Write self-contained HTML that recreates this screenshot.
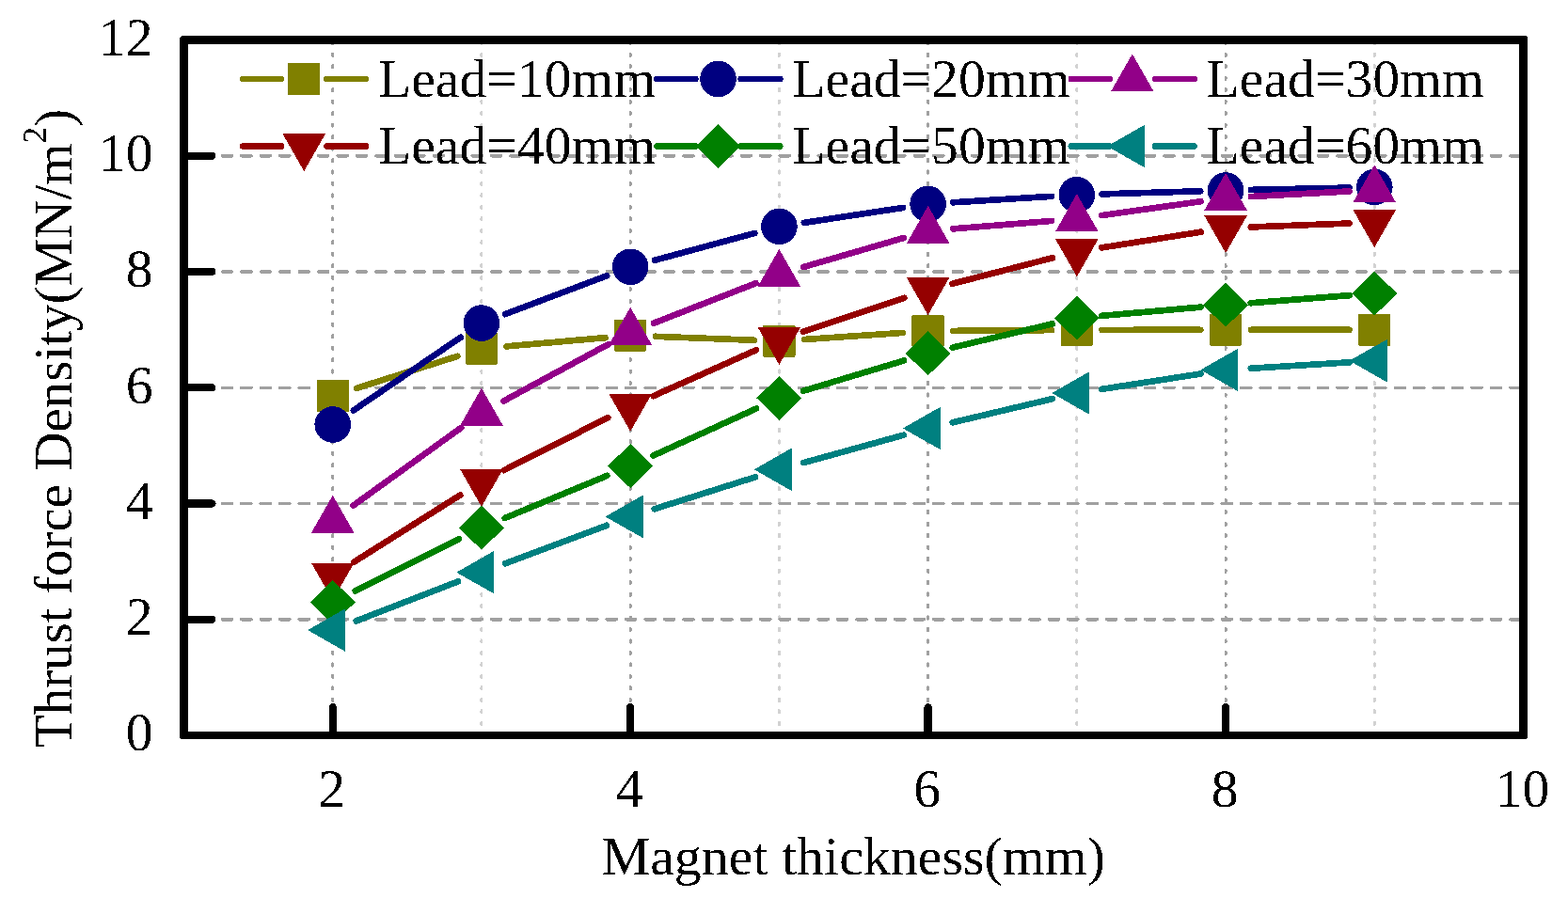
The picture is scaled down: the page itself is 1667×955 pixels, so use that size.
<!DOCTYPE html>
<html><head><meta charset="utf-8"><title>Thrust force density vs magnet thickness</title>
<style>html,body{margin:0;padding:0;background:#fff;}body{width:1667px;height:955px;overflow:hidden;}svg{display:block;}svg *{shape-rendering:crispEdges;}text,tspan{shape-rendering:auto;}text{font-family:"Liberation Serif","Times New Roman",serif;fill:#000;}</style>
</head><body>
<svg width="1667" height="955" viewBox="0 0 1667 955">
<rect x="0" y="0" width="1667" height="955" fill="#fff"/>
<defs><filter id="bin" x="-5%" y="-20%" width="110%" height="140%" color-interpolation-filters="sRGB"><feComponentTransfer><feFuncA type="discrete" tableValues="0 1"/></feComponentTransfer></filter></defs>
<g fill="none" stroke-linecap="round">
<line x1="353.72" y1="44.63" x2="353.72" y2="777.70" stroke="#a0a0a0" stroke-width="3" stroke-dasharray="2.3 10.175"/>
<line x1="511.94" y1="44.63" x2="511.94" y2="777.70" stroke="#d2d2d2" stroke-width="3" stroke-dasharray="2.3 10.175"/>
<line x1="670.17" y1="44.63" x2="670.17" y2="777.70" stroke="#a0a0a0" stroke-width="3" stroke-dasharray="2.3 10.175"/>
<line x1="828.39" y1="44.63" x2="828.39" y2="777.70" stroke="#d2d2d2" stroke-width="3" stroke-dasharray="2.3 10.175"/>
<line x1="986.61" y1="44.63" x2="986.61" y2="777.70" stroke="#a0a0a0" stroke-width="3" stroke-dasharray="2.3 10.175"/>
<line x1="1144.83" y1="44.63" x2="1144.83" y2="777.70" stroke="#d2d2d2" stroke-width="3" stroke-dasharray="2.3 10.175"/>
<line x1="1303.06" y1="44.63" x2="1303.06" y2="777.70" stroke="#a0a0a0" stroke-width="3" stroke-dasharray="2.3 10.175"/>
<line x1="1461.28" y1="44.63" x2="1461.28" y2="777.70" stroke="#d2d2d2" stroke-width="3" stroke-dasharray="2.3 10.175"/>
<line x1="195.5" y1="658.75" x2="1615.20" y2="658.75" stroke="#a0a0a0" stroke-width="3.5" stroke-dasharray="10.2 10.24"/>
<line x1="195.5" y1="535.50" x2="1615.20" y2="535.50" stroke="#a0a0a0" stroke-width="3.5" stroke-dasharray="10.2 10.24"/>
<line x1="195.5" y1="412.25" x2="1615.20" y2="412.25" stroke="#a0a0a0" stroke-width="3.5" stroke-dasharray="10.2 10.24"/>
<line x1="195.5" y1="289.00" x2="1615.20" y2="289.00" stroke="#a0a0a0" stroke-width="3.5" stroke-dasharray="10.2 10.24"/>
<line x1="195.5" y1="165.75" x2="1615.20" y2="165.75" stroke="#a0a0a0" stroke-width="3.5" stroke-dasharray="10.2 10.24"/>
</g>
<path d="M379.26,412.88L486.40,378.82M538.64,368.35L643.47,359.15M696.95,357.82L801.61,361.78M855.13,360.99L959.87,353.91M1013.41,351.90L1118.03,351.10M1171.63,350.88L1276.26,350.82M1329.86,350.81L1434.48,350.84" fill="none" stroke="#808000" stroke-width="6.7" stroke-linecap="round"/>
<rect x="336.52" y="404.10" width="34.4" height="33.8" rx="1.5" fill="#808000"/>
<rect x="494.74" y="353.80" width="34.4" height="33.8" rx="1.5" fill="#808000"/>
<rect x="652.97" y="339.90" width="34.4" height="33.8" rx="1.5" fill="#808000"/>
<rect x="811.19" y="345.90" width="34.4" height="33.8" rx="1.5" fill="#808000"/>
<rect x="969.41" y="335.20" width="34.4" height="33.8" rx="1.5" fill="#808000"/>
<rect x="1127.63" y="334.00" width="34.4" height="33.8" rx="1.5" fill="#808000"/>
<rect x="1285.86" y="333.90" width="34.4" height="33.8" rx="1.5" fill="#808000"/>
<rect x="1444.08" y="333.95" width="34.4" height="33.8" rx="1.5" fill="#808000"/>
<path d="M375.86,436.40L489.80,358.70M537.01,334.13L645.10,293.27M696.03,276.79L802.52,247.91M854.89,236.88L960.11,220.92M1013.36,215.26L1118.08,208.84M1171.62,206.40L1276.27,203.30M1329.85,201.91L1434.48,199.59" fill="none" stroke="#000080" stroke-width="6.7" stroke-linecap="round"/>
<circle cx="353.72" cy="451.50" r="19.3" fill="#000080"/>
<circle cx="511.94" cy="343.60" r="19.3" fill="#000080"/>
<circle cx="670.17" cy="283.80" r="19.3" fill="#000080"/>
<circle cx="828.39" cy="240.90" r="19.3" fill="#000080"/>
<circle cx="986.61" cy="216.90" r="19.3" fill="#000080"/>
<circle cx="1144.83" cy="207.20" r="19.3" fill="#000080"/>
<circle cx="1303.06" cy="202.50" r="19.3" fill="#000080"/>
<circle cx="1461.28" cy="199.00" r="19.3" fill="#000080"/>
<path d="M375.45,537.72L490.21,454.88M535.50,426.42L646.61,366.18M695.12,343.64L803.43,301.26M854.12,284.02L960.88,252.98M1013.33,243.36L1118.12,234.94M1171.37,229.06L1276.52,214.24M1329.82,209.06L1434.52,203.44" fill="none" stroke="#920088" stroke-width="6.7" stroke-linecap="round"/>
<polygon points="353.72,526.73 376.52,566.73 330.92,566.73" fill="#920088"/>
<polygon points="511.94,412.53 534.74,452.53 489.14,452.53" fill="#920088"/>
<polygon points="670.17,326.73 692.97,366.73 647.37,366.73" fill="#920088"/>
<polygon points="828.39,264.83 851.19,304.83 805.59,304.83" fill="#920088"/>
<polygon points="986.61,218.83 1009.41,258.83 963.81,258.83" fill="#920088"/>
<polygon points="1144.83,206.13 1167.63,246.13 1122.03,246.13" fill="#920088"/>
<polygon points="1303.06,183.83 1325.86,223.83 1280.26,223.83" fill="#920088"/>
<polygon points="1461.28,175.33 1484.08,215.33 1438.48,215.33" fill="#920088"/>
<path d="M376.40,597.61L489.27,526.49M535.86,500.10L646.26,444.20M694.63,421.15L803.93,372.25M853.81,352.80L961.19,316.90M1012.56,301.71L1118.88,274.29M1171.30,263.40L1276.59,246.70M1329.84,241.48L1434.50,237.52" fill="none" stroke="#950000" stroke-width="6.7" stroke-linecap="round"/>
<polygon points="353.72,638.57 376.52,598.57 330.92,598.57" fill="#950000"/>
<polygon points="511.94,538.87 534.74,498.87 489.14,498.87" fill="#950000"/>
<polygon points="670.17,458.77 692.97,418.77 647.37,418.77" fill="#950000"/>
<polygon points="828.39,387.97 851.19,347.97 805.59,347.97" fill="#950000"/>
<polygon points="986.61,335.07 1009.41,295.07 963.81,295.07" fill="#950000"/>
<polygon points="1144.83,294.27 1167.63,254.27 1122.03,254.27" fill="#950000"/>
<polygon points="1303.06,269.17 1325.86,229.17 1280.26,229.17" fill="#950000"/>
<polygon points="1461.28,263.17 1484.08,223.17 1438.48,223.17" fill="#950000"/>
<path d="M377.69,628.42L487.97,573.28M536.70,551.02L645.42,505.88M694.55,484.47L804.01,434.53M854.05,415.68L960.95,383.52M1012.68,369.60L1118.76,344.40M1171.53,335.85L1276.36,326.65M1329.78,322.24L1434.56,314.16" fill="none" stroke="#008000" stroke-width="6.7" stroke-linecap="round"/>
<polygon points="353.72,616.90 377.72,640.40 353.72,663.90 329.72,640.40" fill="#008000"/>
<polygon points="511.94,537.80 535.94,561.30 511.94,584.80 487.94,561.30" fill="#008000"/>
<polygon points="670.17,472.10 694.17,495.60 670.17,519.10 646.17,495.60" fill="#008000"/>
<polygon points="828.39,399.90 852.39,423.40 828.39,446.90 804.39,423.40" fill="#008000"/>
<polygon points="986.61,352.30 1010.61,375.80 986.61,399.30 962.61,375.80" fill="#008000"/>
<polygon points="1144.83,314.70 1168.83,338.20 1144.83,361.70 1120.83,338.20" fill="#008000"/>
<polygon points="1303.06,300.80 1327.06,324.30 1303.06,347.80 1279.06,324.30" fill="#008000"/>
<polygon points="1461.28,288.60 1485.28,312.10 1461.28,335.60 1437.28,312.10" fill="#008000"/>
<path d="M378.71,660.40L486.96,618.40M537.04,599.29L645.07,558.81M695.72,541.31L802.84,507.39M854.22,492.15L960.78,462.65M1012.69,449.32L1118.76,424.18M1171.32,413.88L1276.57,397.52M1329.81,391.76L1434.53,385.34" fill="none" stroke="#008080" stroke-width="6.7" stroke-linecap="round"/>
<polygon points="327.05,670.10 367.05,647.30 367.05,692.90" fill="#008080"/>
<polygon points="485.27,608.70 525.27,585.90 525.27,631.50" fill="#008080"/>
<polygon points="643.50,549.40 683.50,526.60 683.50,572.20" fill="#008080"/>
<polygon points="801.72,499.30 841.72,476.50 841.72,522.10" fill="#008080"/>
<polygon points="959.94,455.50 999.94,432.70 999.94,478.30" fill="#008080"/>
<polygon points="1118.16,418.00 1158.16,395.20 1158.16,440.80" fill="#008080"/>
<polygon points="1276.39,393.40 1316.39,370.60 1316.39,416.20" fill="#008080"/>
<polygon points="1434.61,383.70 1474.61,360.90 1474.61,406.50" fill="#008080"/>
<g stroke="#000" stroke-width="8.3" stroke-linecap="round" fill="none">
<line x1="199.80" y1="658.75" x2="225.4" y2="658.75"/>
<line x1="199.80" y1="535.50" x2="225.4" y2="535.50"/>
<line x1="199.80" y1="412.25" x2="225.4" y2="412.25"/>
<line x1="199.80" y1="289.00" x2="225.4" y2="289.00"/>
<line x1="199.80" y1="165.75" x2="225.4" y2="165.75"/>
<line x1="353.72" y1="777.70" x2="353.72" y2="752.2"/>
<line x1="670.17" y1="777.70" x2="670.17" y2="752.2"/>
<line x1="986.61" y1="777.70" x2="986.61" y2="752.2"/>
<line x1="1303.06" y1="777.70" x2="1303.06" y2="752.2"/>
</g>
<path fill="#000" fill-rule="evenodd" d="M194.5,38H1620.5A3.5,3.5 0 0 1 1624,41.5V782.5A3.5,3.5 0 0 1 1620.5,786H194.5A3.5,3.5 0 0 1 191,782.5V41.5A3.5,3.5 0 0 1 194.5,38Z M200,47V778H1615V47Z"/>
<path d="M258.20,84.00H299.00M347.40,84.00H389.00" stroke="#808000" stroke-width="6.6" stroke-linecap="round"/>
<rect x="306.00" y="67.10" width="34.4" height="33.8" rx="1.5" fill="#808000"/>
<path d="M698.50,84.00H739.30M787.70,84.00H829.30" stroke="#000080" stroke-width="6.6" stroke-linecap="round"/>
<circle cx="763.50" cy="84.00" r="19.3" fill="#000080"/>
<path d="M1138.80,84.00H1179.60M1228.00,84.00H1269.60" stroke="#920088" stroke-width="6.6" stroke-linecap="round"/>
<polygon points="1203.80,57.33 1226.60,97.33 1181.00,97.33" fill="#920088"/>
<path d="M258.20,155.50H299.00M347.40,155.50H389.00" stroke="#950000" stroke-width="6.6" stroke-linecap="round"/>
<polygon points="323.20,182.17 346.00,142.17 300.40,142.17" fill="#950000"/>
<path d="M698.50,155.50H739.30M787.70,155.50H829.30" stroke="#008000" stroke-width="6.6" stroke-linecap="round"/>
<polygon points="763.50,132.00 787.50,155.50 763.50,179.00 739.50,155.50" fill="#008000"/>
<path d="M1138.80,155.50H1179.60M1228.00,155.50H1269.60" stroke="#008080" stroke-width="6.6" stroke-linecap="round"/>
<polygon points="1177.13,155.50 1217.13,132.70 1217.13,178.30" fill="#008080"/>
<g filter="url(#bin)">
<text x="402.00" y="102.70" font-size="57.7">Lead=10mm</text>
<text x="842.30" y="102.70" font-size="57.7">Lead=20mm</text>
<text x="1282.60" y="102.70" font-size="57.7">Lead=30mm</text>
<text x="402.00" y="174.20" font-size="57.7">Lead=40mm</text>
<text x="842.30" y="174.20" font-size="57.7">Lead=50mm</text>
<text x="1282.60" y="174.20" font-size="57.7">Lead=60mm</text>
<text x="162.5" y="798.30" font-size="57.7" text-anchor="end">0</text>
<text x="162.5" y="675.05" font-size="57.7" text-anchor="end">2</text>
<text x="162.5" y="551.80" font-size="57.7" text-anchor="end">4</text>
<text x="162.5" y="428.55" font-size="57.7" text-anchor="end">6</text>
<text x="162.5" y="305.30" font-size="57.7" text-anchor="end">8</text>
<text x="162.5" y="182.05" font-size="57.7" text-anchor="end">10</text>
<text x="162.5" y="58.80" font-size="57.7" text-anchor="end">12</text>
<text x="352.72" y="858" font-size="57.7" text-anchor="middle">2</text>
<text x="669.17" y="858" font-size="57.7" text-anchor="middle">4</text>
<text x="985.61" y="858" font-size="57.7" text-anchor="middle">6</text>
<text x="1302.06" y="858" font-size="57.7" text-anchor="middle">8</text>
<text x="1618.50" y="858" font-size="57.7" text-anchor="middle">10</text>
<text x="907.4" y="929.8" font-size="57.9" text-anchor="middle">Magnet thickness(mm)</text>
<text transform="translate(76,795.2) rotate(-90)" x="0" y="0" font-size="57">Thrust force Density(MN/m<tspan dy="-27.5" font-size="35">2</tspan><tspan dy="27.5">)</tspan></text>
</g>
</svg>
</body></html>
